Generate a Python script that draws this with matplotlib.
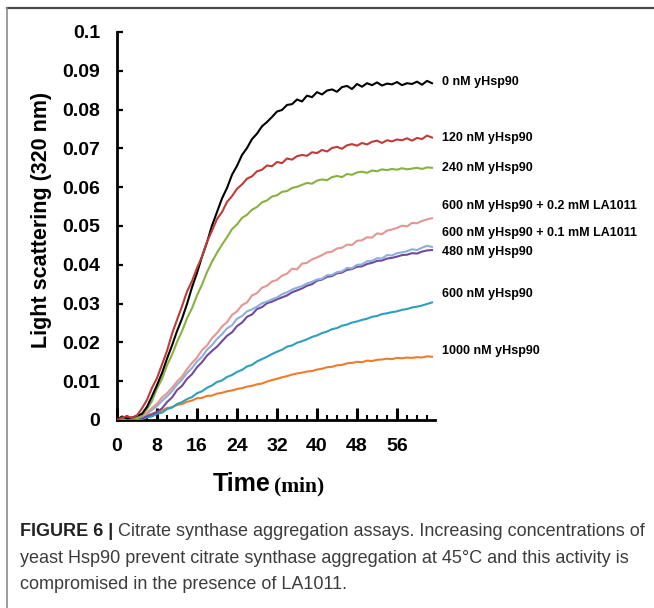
import matplotlib
matplotlib.use('Agg')
import matplotlib.pyplot as plt
import numpy as np
from matplotlib.lines import Line2D
from matplotlib.ticker import MultipleLocator

# time, min (one reading per minute)
time_min = np.arange(0, 64)

labels = [
    '0 nM yHsp90',
    '120 nM yHsp90',
    '240 nM yHsp90',
    '600 nM yHsp90 + 0.2 mM LA1011',
    '600 nM yHsp90 + 0.1 mM LA1011',
    '480 nM yHsp90',
    '600 nM yHsp90',
    '1000 nM yHsp90',
]

hsp_0 = [0.0000, 0.0009, 0.0004, 0.0006, 0.0011, 0.0016, 0.0034, 0.0061, 0.0090, 0.0121,
         0.0158, 0.0192, 0.0229, 0.0261, 0.0299, 0.0342, 0.0379, 0.0421, 0.0458, 0.0501,
         0.0536, 0.0571, 0.0598, 0.0632, 0.0655, 0.0683, 0.0701, 0.0724, 0.0738, 0.0757,
         0.0768, 0.0781, 0.0795, 0.0799, 0.0812, 0.0814, 0.0826, 0.0821, 0.0836, 0.0832,
         0.0845, 0.0839, 0.0849, 0.0852, 0.0846, 0.0858, 0.0861, 0.0853, 0.0866, 0.0859,
         0.0868, 0.0863, 0.0870, 0.0862, 0.0867, 0.0865, 0.0871, 0.0863, 0.0868, 0.0866,
         0.0872, 0.0864, 0.0874, 0.0868]

hsp_120 = [0.0000, 0.0006, 0.0010, 0.0005, 0.0012, 0.0030, 0.0052, 0.0083, 0.0108, 0.0143,
           0.0178, 0.0222, 0.0258, 0.0293, 0.0331, 0.0358, 0.0392, 0.0421, 0.0459, 0.0488,
           0.0518, 0.0536, 0.0562, 0.0577, 0.0596, 0.0607, 0.0622, 0.0628, 0.0641, 0.0645,
           0.0656, 0.0654, 0.0665, 0.0662, 0.0674, 0.0671, 0.0680, 0.0683, 0.0681, 0.0690,
           0.0688, 0.0696, 0.0692, 0.0701, 0.0704, 0.0699, 0.0708, 0.0711, 0.0707, 0.0714,
           0.0710, 0.0717, 0.0720, 0.0714, 0.0721, 0.0718, 0.0723, 0.0721, 0.0726, 0.0720,
           0.0727, 0.0724, 0.0733, 0.0728]

hsp_240 = [0.0000, 0.0004, 0.0002, 0.0006, 0.0005, 0.0012, 0.0028, 0.0049, 0.0081, 0.0106,
           0.0141, 0.0168, 0.0201, 0.0229, 0.0262, 0.0288, 0.0321, 0.0349, 0.0381, 0.0408,
           0.0431, 0.0452, 0.0471, 0.0492, 0.0504, 0.0521, 0.0529, 0.0542, 0.0549, 0.0561,
           0.0566, 0.0576, 0.0579, 0.0588, 0.0590, 0.0598, 0.0601, 0.0606, 0.0611, 0.0609,
           0.0617, 0.0620, 0.0618, 0.0626, 0.0629, 0.0626, 0.0634, 0.0632, 0.0638, 0.0640,
           0.0637, 0.0643, 0.0641, 0.0646, 0.0644, 0.0647, 0.0645, 0.0649, 0.0646, 0.0648,
           0.0650, 0.0647, 0.0651, 0.0650]

hsp_600_la02 = [0.0000, 0.0008, 0.0003, 0.0007, 0.0004, 0.0010, 0.0019, 0.0031, 0.0042, 0.0058,
                0.0069, 0.0083, 0.0099, 0.0112, 0.0131, 0.0147, 0.0161, 0.0180, 0.0192, 0.0211,
                0.0224, 0.0241, 0.0252, 0.0271, 0.0280, 0.0296, 0.0303, 0.0321, 0.0327, 0.0341,
                0.0346, 0.0357, 0.0361, 0.0372, 0.0377, 0.0390, 0.0388, 0.0403, 0.0405, 0.0414,
                0.0419, 0.0425, 0.0432, 0.0434, 0.0442, 0.0444, 0.0452, 0.0451, 0.0462, 0.0463,
                0.0471, 0.0470, 0.0481, 0.0479, 0.0488, 0.0491, 0.0495, 0.0501, 0.0499, 0.0508,
                0.0507, 0.0513, 0.0517, 0.0520]

hsp_600_la01 = [0.0000, 0.0005, 0.0009, 0.0004, 0.0006, 0.0010, 0.0016, 0.0026, 0.0036, 0.0049,
                0.0061, 0.0074, 0.0091, 0.0104, 0.0121, 0.0134, 0.0151, 0.0163, 0.0181, 0.0193,
                0.0209, 0.0221, 0.0236, 0.0244, 0.0261, 0.0268, 0.0280, 0.0285, 0.0292, 0.0301,
                0.0305, 0.0311, 0.0316, 0.0324, 0.0329, 0.0336, 0.0341, 0.0345, 0.0352, 0.0356,
                0.0362, 0.0364, 0.0373, 0.0374, 0.0381, 0.0383, 0.0392, 0.0391, 0.0400, 0.0401,
                0.0409, 0.0410, 0.0417, 0.0416, 0.0425, 0.0424, 0.0430, 0.0432, 0.0435, 0.0440,
                0.0438, 0.0444, 0.0449, 0.0446]

hsp_480 = [0.0000, 0.0003, 0.0006, 0.0002, 0.0005, 0.0004, 0.0010, 0.0014, 0.0021, 0.0030,
           0.0046, 0.0058, 0.0077, 0.0088, 0.0106, 0.0118, 0.0136, 0.0149, 0.0166, 0.0178,
           0.0189, 0.0203, 0.0217, 0.0226, 0.0242, 0.0251, 0.0266, 0.0272, 0.0286, 0.0291,
           0.0301, 0.0305, 0.0311, 0.0316, 0.0321, 0.0329, 0.0334, 0.0339, 0.0346, 0.0350,
           0.0359, 0.0362, 0.0369, 0.0371, 0.0378, 0.0380, 0.0387, 0.0389, 0.0395, 0.0396,
           0.0402, 0.0405, 0.0410, 0.0411, 0.0416, 0.0418, 0.0421, 0.0425, 0.0426, 0.0430,
           0.0429, 0.0434, 0.0437, 0.0438]

hsp_600 = [0.0000, 0.0004, 0.0001, 0.0005, 0.0002, 0.0003, 0.0007, 0.0009, 0.0016, 0.0019,
           0.0028, 0.0032, 0.0041, 0.0046, 0.0054, 0.0059, 0.0069, 0.0074, 0.0083, 0.0089,
           0.0098, 0.0102, 0.0111, 0.0116, 0.0124, 0.0129, 0.0138, 0.0142, 0.0151, 0.0157,
           0.0163, 0.0170, 0.0176, 0.0181, 0.0189, 0.0192, 0.0199, 0.0203, 0.0208, 0.0214,
           0.0218, 0.0224, 0.0228, 0.0234, 0.0237, 0.0243, 0.0246, 0.0251, 0.0254, 0.0258,
           0.0261, 0.0266, 0.0268, 0.0273, 0.0275, 0.0278, 0.0280, 0.0284, 0.0286, 0.0290,
           0.0292, 0.0295, 0.0299, 0.0303]

hsp_1000 = [0.0000, 0.0002, 0.0000, 0.0003, 0.0006, 0.0005, 0.0012, 0.0016, 0.0021, 0.0024,
            0.0031, 0.0033, 0.0039, 0.0041, 0.0047, 0.0050, 0.0056, 0.0057, 0.0062, 0.0063,
            0.0068, 0.0070, 0.0074, 0.0076, 0.0080, 0.0082, 0.0086, 0.0088, 0.0092, 0.0094,
            0.0099, 0.0103, 0.0106, 0.0110, 0.0113, 0.0117, 0.0120, 0.0122, 0.0125, 0.0126,
            0.0130, 0.0132, 0.0136, 0.0137, 0.0141, 0.0142, 0.0146, 0.0147, 0.0150, 0.0149,
            0.0153, 0.0152, 0.0155, 0.0156, 0.0158, 0.0157, 0.0160, 0.0159, 0.0161, 0.0160,
            0.0162, 0.0161, 0.0164, 0.0163]

# where each curve's label sits on the right (y, light scattering units)
label_y = [0.0871, 0.0727, 0.0649, 0.0552, 0.0482, 0.0433, 0.0325, 0.0178]

y_ticks = [0, 0.01, 0.02, 0.03, 0.04, 0.05, 0.06, 0.07, 0.08, 0.09, 0.1]
y_ticklabels = ['0', '0.01', '0.02', '0.03', '0.04', '0.05', '0.06', '0.07', '0.08', '0.09', '0.1']
x_ticks = [0, 8, 16, 24, 32, 40, 48, 56]

caption_bold = 'FIGURE 6 | '
caption_lines = [
    'Citrate synthase aggregation assays. Increasing concentrations of',
    'yeast Hsp90 prevent citrate synthase aggregation at 45\u00b0C and this activity is',
    'compromised in the presence of LA1011.',
]

W, H = 654, 608
SANS = 'Liberation Sans'


def px_x(x):
    return x / W


def px_y(y):
    return 1 - y / H


def draw_frame(fig):
    """Grey panel border (top and left edges)"""
    fig.add_artist(Line2D([px_x(7), 1], [px_y(8), px_y(8)], color='#4a4a4a', lw=1.6))
    fig.add_artist(Line2D([px_x(7), px_x(7)], [px_y(8), 0], color='#8a8a8a', lw=1.2))


def draw_curves(ax):
    series = [hsp_0, hsp_120, hsp_240, hsp_600_la02, hsp_600_la01, hsp_480, hsp_600, hsp_1000]
    colors = ['#000000', '#bf3b37', '#88b140', '#e39692', '#8eaedc', '#6f4a9e', '#2f9fbd', '#ee7c2b']
    order = [7, 6, 5, 4, 3, 2, 0, 1]
    for i in order:
        ax.plot(time_min, series[i], color=colors[i], lw=1.5, zorder=3 + order.index(i))
    for text, y in zip(labels, label_y):
        ax.text(65.0, y, text, ha='left', va='center', fontsize=9, fontweight='bold',
                family=SANS, clip_on=False)


def style_axes(ax):
    ax.set_xlim(0, 63.6)
    ax.set_ylim(0, 0.1)
    for side in ['top', 'right']:
        ax.spines[side].set_visible(False)
    for side in ['left', 'bottom']:
        ax.spines[side].set_linewidth(2.0)
    ax.set_yticks(y_ticks)
    ax.set_yticklabels(y_ticklabels)
    ax.set_xticks(x_ticks)
    ax.set_xticklabels([str(t) for t in x_ticks])
    ax.xaxis.set_minor_locator(MultipleLocator(2))
    ax.tick_params(axis='y', direction='in', length=4, width=1.6, pad=12)
    ax.tick_params(axis='x', which='major', direction='in', length=9, width=2.2, pad=13)
    ax.tick_params(axis='x', which='minor', direction='in', length=3.5, width=1.5)
    for lab in ax.get_xticklabels() + ax.get_yticklabels():
        lab.set_fontsize(14)
        lab.set_fontweight('bold')
        lab.set_family(SANS)
    ax.set_ylabel('Light scattering (320 nm)', fontsize=15.5, fontweight='bold', family=SANS)
    ax.yaxis.set_label_coords(-0.205, 0.515)


def draw_xlabel(fig):
    fig.text(px_x(271), px_y(491), 'Time', ha='right', va='baseline', fontsize=18,
             fontweight='bold', family=SANS)
    fig.text(px_x(274), px_y(491), '(min)', ha='left', va='baseline', fontsize=15.5,
             fontweight='bold', family='Liberation Serif')


def draw_caption(fig):
    renderer = fig.canvas.get_renderer()
    baselines = [536, 563, 589]
    x0 = px_x(20)
    bold = fig.text(x0, px_y(baselines[0]), caption_bold, ha='left', va='baseline',
                    fontsize=13, fontweight='bold', family=SANS, color='#222222')
    bbox = bold.get_window_extent(renderer=renderer)
    x_rest = bbox.x1 / fig.bbox.width
    for i, line in enumerate(caption_lines):
        fig.text(x_rest if i == 0 else x0, px_y(baselines[i]), line, ha='left', va='baseline',
                 fontsize=13, family=SANS, color='#3c3c3c')


if __name__ == '__main__':
    fig = plt.figure(figsize=(W / 100, H / 100), dpi=100)
    ax = fig.add_axes([px_x(117), px_y(420), 318 / W, 388 / H])
    draw_curves(ax)
    style_axes(ax)
    draw_xlabel(fig)
    draw_frame(fig)
    draw_caption(fig)
    fig.savefig('out.png', dpi=100)
